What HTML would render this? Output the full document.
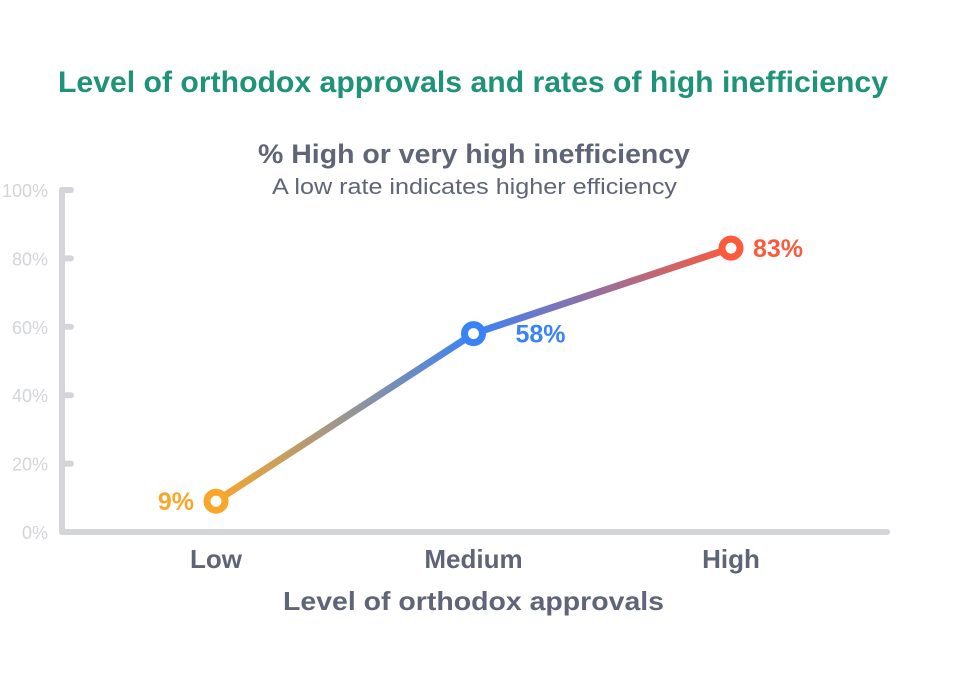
<!DOCTYPE html>
<html><head><meta charset="utf-8"><style>
body{margin:0;background:#fff;font-family:"Liberation Sans",sans-serif}
svg{display:block}
</style></head><body>
<svg width="962" height="676" id="chart">
<defs>
<linearGradient id="g1" gradientUnits="userSpaceOnUse" x1="216" y1="0" x2="474" y2="0"><stop offset="0" stop-color="#f9a72b"/><stop offset="1" stop-color="#3a83f6"/></linearGradient>
<linearGradient id="g2" gradientUnits="userSpaceOnUse" x1="474" y1="0" x2="731" y2="0"><stop offset="0" stop-color="#3a83f6"/><stop offset="1" stop-color="#fb5a3c"/></linearGradient>
</defs>
<text x="58" y="92" textLength="830" lengthAdjust="spacingAndGlyphs" font-size="30" font-weight="bold" fill="#1f9377">Level of orthodox approvals and rates of high inefficiency</text>
<text x="258" y="163" textLength="432" lengthAdjust="spacingAndGlyphs" font-size="27" font-weight="bold" fill="#5f6577">% High or very high inefficiency</text>
<text x="272" y="194" textLength="405" lengthAdjust="spacingAndGlyphs" font-size="22" fill="#5f6577">A low rate indicates higher efficiency</text>
<g id="axes"></g>
<g id="marks"></g>
<text x="283" y="610" textLength="381" lengthAdjust="spacingAndGlyphs" font-size="26" font-weight="bold" fill="#5f6577">Level of orthodox approvals</text>
</svg>
<script>
const categories=["Low","Medium","High"];
const values=[9,58,83];
const yTicks=[0,20,40,60,80,100];
const colors=["#f9a72b","#3a83f6","#fb5a3c"];
const NS="http://www.w3.org/2000/svg";
const xPos=i=>216+i*257.5;
const yPos=v=>532-v*3.42;
const axes=document.getElementById('axes'),marks=document.getElementById('marks');
function mk(p,tag,a){const e=document.createElementNS(NS,tag);for(const k in a)e.setAttribute(k,a[k]);p.appendChild(e);return e;}
let l=mk(axes,'line',{x1:62,y1:yPos(100),x2:62,y2:yPos(0),stroke:'#d3d5d9','stroke-width':6,'stroke-linecap':'round'});


l=mk(axes,'line',{x1:62,y1:yPos(0),x2:887,y2:yPos(0),stroke:'#d3d5d9','stroke-width':6,'stroke-linecap':'round'});


yTicks.forEach(t=>{
 const tk=mk(axes,'line',{x1:62,y1:yPos(t),x2:71,y2:yPos(t),stroke:'#d3d5d9','stroke-width':6,'stroke-linecap':'round'});
 
 
 const tx=mk(axes,'text',{x:48,y:yPos(t)+7,'text-anchor':'end','font-size':18,fill:'#d3d5d9'});
 tx.textContent=t+'%';
 
 
});
categories.forEach((c,i)=>{
 const tx=mk(axes,'text',{x:xPos(i),y:568,'text-anchor':'middle','font-size':26,'font-weight':'bold',fill:'#5f6577'});
 tx.textContent=c;
 
 
});
for(let i=0;i<values.length-1;i++){
 const s=mk(marks,'line',{x1:xPos(i),y1:yPos(values[i]),x2:xPos(i+1),y2:yPos(values[i+1]),stroke:'url(#g'+(i+1)+')','stroke-width':7});
 
 
}
const lx=[-22,42,22],anc=['end','start','start'];
values.forEach((v,i)=>{
 const c=mk(marks,'circle',{cx:xPos(i),cy:yPos(v),r:9,fill:'#fff',stroke:colors[i],'stroke-width':7});
 
 
 const t=mk(marks,'text',{x:xPos(i)+lx[i],y:yPos(v)+9,'text-anchor':anc[i],'font-size':25,'font-weight':'bold',fill:colors[i]});
 t.textContent=v+'%';
 
 
});
</script>
</body></html>
